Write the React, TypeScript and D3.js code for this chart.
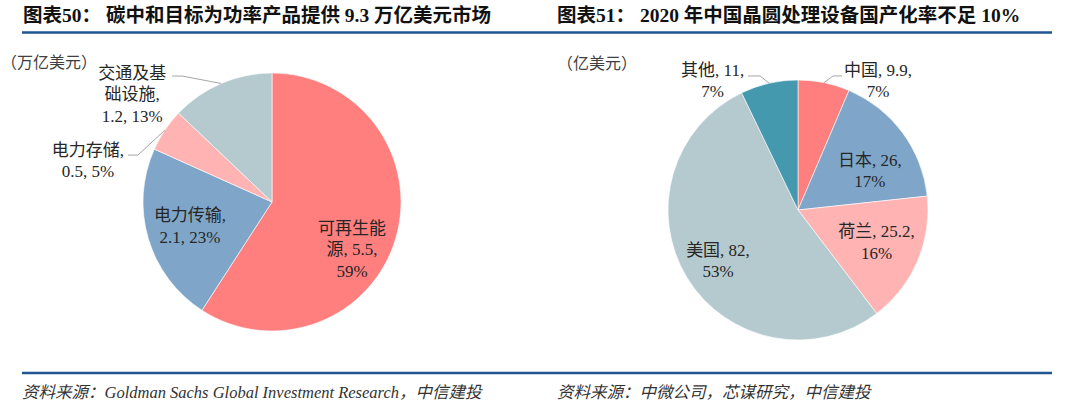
import { useRef, useEffect } from 'react'
import * as d3 from 'd3'

// 图表50
const LEFT_CATEGORIES = ['可再生能源', '电力传输', '电力存储', '交通及基础设施']
const LEFT_VALUES = [5.5, 2.1, 0.5, 1.2]
const LEFT_LABELS = [
  ['可再生能', '源, 5.5,', '59%'],
  ['电力传输,', '2.1, 23%'],
  ['电力存储,', '0.5, 5%'],
  ['交通及基', '础设施,', '1.2, 13%'],
]

// 图表51
const RIGHT_CATEGORIES = ['中国', '日本', '荷兰', '美国', '其他']
const RIGHT_VALUES = [9.9, 26, 25.2, 82, 11]
const RIGHT_LABELS = [
  ['中国, 9.9,', '7%'],
  ['日本, 26,', '17%'],
  ['荷兰, 25.2,', '16%'],
  ['美国, 82,', '53%'],
  ['其他, 11,', '7%'],
]

const LEFT_COLORS = ['#FF7F7F', '#7FA6C9', '#FFB3B3', '#B5CACF']
const RIGHT_COLORS = ['#FF7F7F', '#7FA6C9', '#FFB3B3', '#B5CACF', '#4499AF']

// label placement: 'in' = nudge from centroid, 'out' = offset from rim point + leader elbows
type Layout =
  | { kind: 'in'; dx: number; dy: number }
  | { kind: 'out'; lx: number; ly: number; leader: [number, number][] }

const LEFT_LAYOUT: Layout[] = [
  { kind: 'in', dx: -6.6, dy: 21.9 },
  { kind: 'in', dx: 4.6, dy: -1.6 },
  { kind: 'out', lx: -77, ly: 20, leader: [[-27, 25], [-37, 25]] },
  { kind: 'out', lx: -89, ly: -10.4, leader: [[-39, -7.4], [-49, -7.4]] },
]
const RIGHT_LAYOUT: Layout[] = [
  { kind: 'out', lx: 54, ly: -12.7, leader: [[9, -6.7], [18, -6.7]] },
  { kind: 'in', dx: -1.2, dy: 14.6 },
  { kind: 'in', dx: -5.1, dy: -4 },
  { kind: 'in', dx: -2.4, dy: 3 },
  { kind: 'out', lx: -56.5, ly: -13.3, leader: [[-9, -7.3], [-21, -7.3]] },
]

const W = 1080
const H = 404
const FONT = '"Liberation Serif", "Times New Roman", "Noto Sans CJK SC", serif'
const RULE = '#1F5591'
const LINE_H = 21.3

function drawPie(
  g: d3.Selection<SVGGElement, unknown, null, undefined>,
  cats: string[], vals: number[], labels: string[][], colors: string[], layout: Layout[],
  cx: number, cy: number, r: number,
) {
  const pie = d3.pie<number>().sort(null).value(d => d)
  const arcs = pie(vals)
  const arc = d3.arc<d3.PieArcDatum<number>>().innerRadius(0).outerRadius(r)
  const labelArc = d3.arc<d3.PieArcDatum<number>>().innerRadius(r * 0.7).outerRadius(r * 0.7)
  const color = d3.scaleOrdinal<string, string>().domain(cats).range(colors)

  const pg = g.append('g').attr('transform', `translate(${cx},${cy})`)
  pg.selectAll('path.slice')
    .data(arcs)
    .join('path')
    .attr('class', 'slice')
    .attr('d', arc)
    .attr('fill', (_d, i) => color(cats[i]))
    .attr('stroke', '#fff')
    .attr('stroke-width', 0.6)

  arcs.forEach((a, i) => {
    const lay = layout[i]
    const lines = labels[i]
    const mid = (a.startAngle + a.endAngle) / 2
    if (lay.kind === 'in') {
      const [x0, y0] = labelArc.centroid(a)
      const x = x0 + lay.dx
      const yc = y0 + lay.dy
      const top = yc - ((lines.length - 1) * LINE_H) / 2
      lines.forEach((t, j) => {
        pg.append('text')
          .attr('x', x).attr('y', top + j * LINE_H)
          .attr('dy', '0.35em')
          .attr('text-anchor', 'middle')
          .attr('font-size', 17).attr('font-family', FONT)
          .attr('fill', '#262626')
          .text(t)
      })
    } else {
      const px = Math.sin(mid) * r
      const py = -Math.cos(mid) * r
      const pts: [number, number][] = [[px, py], ...lay.leader.map(([dx, dy]) => [px + dx, py + dy] as [number, number])]
      pg.append('path')
        .attr('d', d3.line()(pts))
        .attr('fill', 'none')
        .attr('stroke', '#A6A6A6')
        .attr('stroke-width', 1)
      lines.forEach((t, j) => {
        pg.append('text')
          .attr('x', px + lay.lx).attr('y', py + lay.ly + j * LINE_H)
          .attr('dy', '0.35em')
          .attr('text-anchor', 'middle')
          .attr('font-size', 17).attr('font-family', FONT)
          .attr('fill', '#262626')
          .text(t)
      })
    }
  })
}

export default function App() {
  const svgRef = useRef<SVGSVGElement>(null)

  useEffect(() => {
    if (!svgRef.current) return
    const svg = d3.select(svgRef.current)
    svg.selectAll('*').remove()
    const g = svg.append('g')

    // titles
    const titles: [number, string][] = [
      [23, '图表50： 碳中和目标为功率产品提供 9.3 万亿美元市场'],
      [557, '图表51： 2020 年中国晶圆处理设备国产化率不足 10%'],
    ]
    g.selectAll('text.title')
      .data(titles)
      .join('text')
      .attr('class', 'title')
      .attr('x', d => d[0]).attr('y', 15)
      .attr('dy', '0.35em')
      .attr('font-size', 19.5).attr('font-weight', 700)
      .attr('font-family', FONT).attr('fill', '#111')
      .text(d => d[1])

    // rules
    ;[32.5, 373].forEach(y => {
      g.append('line')
        .attr('x1', 22).attr('x2', 1052)
        .attr('y1', y).attr('y2', y)
        .attr('stroke', RULE).attr('stroke-width', 2.6)
    })

    // unit labels
    g.append('text').attr('x', 1).attr('y', 62).attr('dy', '0.35em')
      .attr('font-size', 16).attr('font-family', FONT).attr('fill', '#404040').text('（万亿美元）')
    g.append('text').attr('x', 557).attr('y', 63).attr('dy', '0.35em')
      .attr('font-size', 16).attr('font-family', FONT).attr('fill', '#404040').text('（亿美元）')

    drawPie(g, LEFT_CATEGORIES, LEFT_VALUES, LEFT_LABELS, LEFT_COLORS, LEFT_LAYOUT, 272, 202, 129)
    drawPie(g, RIGHT_CATEGORIES, RIGHT_VALUES, RIGHT_LABELS, RIGHT_COLORS, RIGHT_LAYOUT, 798, 210, 130)

    // sources
    const sources: [number, string][] = [
      [22, '资料来源：Goldman Sachs Global Investment Research，中信建投'],
      [557, '资料来源：中微公司，芯谋研究，中信建投'],
    ]
    g.selectAll('text.src')
      .data(sources)
      .join('text')
      .attr('class', 'src')
      .attr('x', d => d[0]).attr('y', 392)
      .attr('dy', '0.35em')
      .attr('font-size', 16.5).attr('font-style', 'italic')
      .attr('font-family', FONT).attr('fill', '#333')
      .text(d => d[1])
  }, [])

  return (
    <div>
      <style>{'body{margin:0;background:#fff}'}</style>
      <svg ref={svgRef} width={W} height={H} style={{ display: 'block' }} />
    </div>
  )
}
